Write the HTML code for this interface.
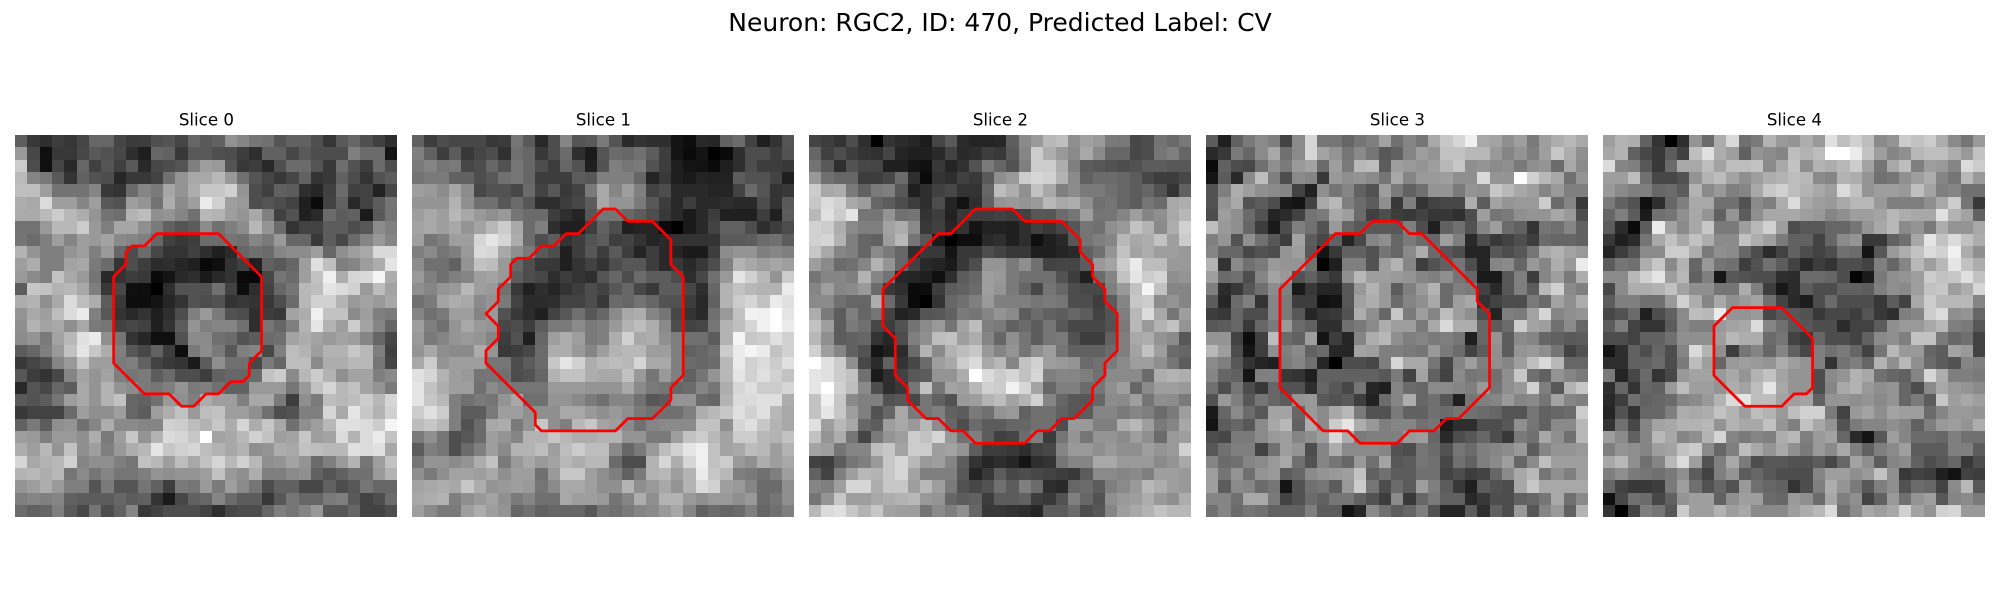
<!DOCTYPE html>
<html>
<head>
<meta charset="utf-8">
<title>Neuron slices</title>
<style>
html,body{margin:0;padding:0;background:#fff;}
svg{display:block;}
text{font-family:"DejaVu Sans",sans-serif;fill:#000;}
</style>
</head>
<body>
<svg id="figure" xmlns="http://www.w3.org/2000/svg" width="2000" height="600" viewBox="0 0 2000 600">
<rect width="2000" height="600" fill="#fff"/>
<text x="1000" y="31" font-size="25" text-anchor="middle">Neuron: RGC2, ID: 470, Predicted Label: CV</text>
<text x="206.4" y="125.5" font-size="16.67" text-anchor="middle">Slice 0</text>
<text x="603.4" y="125.5" font-size="16.67" text-anchor="middle">Slice 1</text>
<text x="1000.4" y="125.5" font-size="16.67" text-anchor="middle">Slice 2</text>
<text x="1397.4" y="125.5" font-size="16.67" text-anchor="middle">Slice 3</text>
<text x="1794.4" y="125.5" font-size="16.67" text-anchor="middle">Slice 4</text>
</svg>
<script>
// Intensities: percent of white, row by row (31 x 31 per slice)
var slice0Values = [
[37,22,18,24,21,27,40,40,27,23,24,31,33,27,40,35,38,57,52,46,44,33,38,38,31,21,35,40,31,25,18],
[60,28,6,22,22,28,35,32,28,18,12,40,38,22,35,35,31,30,24,18,38,38,28,35,30,30,30,50,42,42,8],
[80,30,6,27,16,40,25,33,25,35,16,28,30,33,50,62,60,33,22,24,16,31,42,42,33,22,43,32,24,42,30],
[73,52,47,35,20,38,32,30,15,22,22,26,44,58,66,66,72,60,44,33,27,22,27,38,20,22,38,30,20,32,36],
[75,75,62,45,45,45,52,22,20,42,52,48,65,58,68,78,78,82,58,30,25,38,36,18,15,25,42,25,26,13,28],
[68,66,86,62,62,52,62,34,32,62,58,45,68,54,62,92,82,62,60,30,33,30,26,12,4,26,38,16,26,36,46],
[67,67,73,80,72,68,58,45,43,70,74,56,58,52,44,72,70,62,58,66,50,25,32,12,16,42,36,38,10,35,45],
[45,45,60,72,72,80,60,50,65,65,56,48,38,33,36,55,44,50,55,72,58,42,20,26,26,36,36,30,34,55,50],
[46,42,50,62,52,62,60,64,54,52,50,40,25,22,24,42,42,46,44,52,48,60,40,40,22,36,28,42,52,60,52],
[70,58,50,50,58,62,50,60,40,30,42,28,20,20,25,18,12,16,40,44,42,52,55,55,62,40,56,62,66,85,85],
[62,68,50,50,64,66,48,42,20,30,24,17,18,15,12,3,6,20,25,13,38,35,40,62,88,75,50,52,62,68,90],
[60,54,50,76,66,60,46,16,20,24,22,4,8,16,18,10,16,20,4,3,28,46,42,62,76,94,68,84,85,96,68],
[36,78,76,70,72,66,50,22,28,6,5,0,18,32,32,32,44,26,5,18,26,40,46,72,74,90,86,82,60,74,64],
[68,70,56,66,86,74,68,36,22,5,5,8,15,20,32,30,32,20,22,20,22,30,42,72,82,82,70,60,64,60,66],
[58,66,62,74,86,92,50,34,20,16,20,12,18,30,50,60,48,32,30,18,24,22,64,68,94,76,76,54,62,50,48],
[56,70,64,66,56,66,48,46,25,28,25,12,20,36,58,50,52,52,44,18,46,40,50,70,90,70,62,80,64,52,40],
[55,58,48,64,72,88,92,56,46,20,15,6,6,32,54,54,44,42,32,36,42,44,64,68,64,60,64,62,52,40,28],
[36,40,50,60,76,90,78,68,50,34,28,38,24,5,48,55,48,34,50,52,28,50,74,70,62,70,70,78,72,50,25],
[22,27,32,52,60,78,62,62,48,50,38,26,22,20,10,36,56,44,44,28,48,40,74,74,54,68,68,72,72,46,27],
[34,24,20,28,52,64,58,64,50,46,48,36,42,30,30,24,38,40,40,42,76,80,54,72,80,70,56,64,64,50,54],
[16,33,28,40,36,66,58,70,58,55,48,46,50,58,48,50,44,38,38,60,60,60,46,60,76,84,72,76,64,58,48],
[35,32,36,46,62,66,58,70,76,40,38,44,60,56,50,68,62,62,50,66,66,48,24,56,48,74,72,74,80,72,84],
[22,26,26,26,42,62,56,56,62,40,36,62,68,76,60,74,76,62,62,56,44,30,32,50,50,84,66,90,78,70,82],
[38,48,36,56,58,44,52,68,54,54,52,52,82,80,74,70,78,68,84,68,78,66,44,56,62,72,88,88,86,80,96],
[62,60,50,60,60,56,68,48,62,78,58,70,86,84,78,100,64,66,72,82,76,62,64,78,62,64,86,70,86,92,76],
[68,62,72,58,76,56,62,50,60,68,72,90,78,82,84,74,70,66,70,56,58,68,66,76,74,72,72,88,86,88,66],
[84,66,70,72,82,52,56,56,50,46,76,72,62,74,66,76,84,72,82,72,56,58,64,58,42,50,60,70,46,62,76],
[70,72,68,72,46,54,46,52,46,46,50,58,56,58,58,62,76,60,56,68,50,50,54,56,38,33,38,44,44,60,70],
[58,62,68,60,50,50,33,48,33,33,46,38,24,48,46,60,48,62,54,46,30,38,38,28,28,38,30,34,46,40,40],
[50,52,50,52,38,36,36,36,40,36,38,20,10,28,38,40,52,42,36,36,22,34,46,40,40,48,50,35,26,30,42],
[42,38,40,50,35,28,46,30,38,52,22,26,30,30,30,26,18,28,30,30,40,50,46,52,60,34,34,40,26,26,30]
];
var slice1Values = [
[38,24,30,28,28,28,22,23,46,35,16,30,52,33,35,48,33,16,20,18,18,8,5,16,15,38,42,26,12,20,33],
[50,38,24,36,22,27,30,19,44,40,22,30,42,18,10,33,42,40,44,36,24,8,4,8,0,4,18,30,30,24,32],
[48,52,46,48,28,30,40,32,46,40,30,24,40,32,12,32,50,46,48,32,24,12,8,7,4,12,18,30,24,24,22],
[45,48,48,38,38,30,34,44,46,40,24,24,24,36,34,50,50,50,40,14,22,12,10,14,13,13,36,32,32,26,12],
[62,60,55,65,55,28,32,32,28,42,26,34,22,26,48,66,52,62,50,26,30,16,16,16,14,14,26,42,33,20,22],
[58,58,58,70,56,44,44,34,42,34,18,18,24,28,36,66,58,58,48,34,24,16,24,16,16,18,16,16,30,20,35],
[62,66,62,72,66,60,56,60,46,42,42,24,18,14,34,46,46,40,36,30,22,16,10,16,24,12,12,12,24,12,36],
[64,66,62,66,58,64,72,80,66,42,50,18,12,12,24,38,30,12,14,14,4,0,10,16,26,38,38,30,18,24,30],
[62,46,50,62,62,84,90,84,68,42,30,36,20,24,32,36,24,26,20,14,16,20,20,20,20,35,35,36,42,44,36],
[50,54,46,50,60,86,84,66,56,48,35,30,12,24,34,24,35,24,14,24,16,14,10,10,24,55,58,58,50,52,50],
[55,44,44,38,58,76,74,60,40,30,22,22,12,20,26,20,30,34,34,24,16,22,16,22,30,50,70,66,62,65,62],
[60,50,44,50,52,62,64,60,36,30,28,18,24,20,18,33,40,30,42,36,36,30,18,28,44,60,90,82,72,58,80],
[56,52,58,60,72,62,60,44,22,12,18,14,20,24,30,26,34,40,28,22,36,36,28,18,40,70,76,72,70,70,92],
[44,48,64,68,66,54,58,48,26,17,17,18,26,26,30,22,42,40,45,40,32,32,24,16,38,70,80,84,76,92,88],
[52,44,48,62,62,52,60,32,22,17,12,26,34,44,34,40,54,66,68,52,46,28,20,16,44,60,76,95,94,100,90],
[62,50,44,58,66,60,58,28,30,24,36,48,48,54,48,50,60,70,74,68,54,30,26,28,46,70,75,84,94,100,92],
[60,48,52,58,60,58,52,24,32,12,40,62,68,62,48,50,68,82,66,68,56,50,44,44,36,70,96,78,80,88,82],
[58,66,56,54,54,68,58,22,24,28,42,68,68,60,52,62,70,72,72,62,62,50,38,40,44,80,92,96,92,76,82],
[66,80,58,62,62,62,46,46,30,36,42,78,90,82,68,72,74,72,84,66,66,50,42,40,42,72,92,82,86,80,88],
[88,84,70,62,60,46,46,44,30,32,40,70,76,76,68,66,66,76,60,46,60,50,38,46,58,72,90,82,88,82,76],
[90,76,68,62,62,44,54,50,46,46,46,60,60,60,58,58,58,66,54,48,46,40,42,52,46,68,84,88,80,80,84],
[90,78,72,50,44,48,46,58,66,44,44,58,58,54,48,44,52,52,44,34,36,58,58,42,40,70,86,86,88,88,68],
[80,88,80,50,36,36,48,62,62,56,56,56,66,66,60,56,60,56,48,44,44,44,50,68,72,78,88,82,88,72,66],
[74,78,72,50,32,42,66,68,48,58,78,56,50,72,78,64,62,54,44,52,54,54,54,76,76,56,84,88,78,70,66],
[48,56,46,30,34,42,62,58,52,70,70,78,72,68,68,70,70,58,58,48,48,62,76,80,72,64,80,80,72,70,76],
[36,50,46,30,42,50,62,54,70,70,74,62,74,80,74,74,54,40,48,60,74,82,90,94,76,64,66,74,72,62,70],
[46,58,58,54,58,68,76,48,60,66,60,64,72,68,72,72,42,30,30,70,84,68,84,94,76,80,60,56,68,62,66],
[56,48,56,64,64,62,66,56,62,62,44,60,78,78,62,56,50,38,48,70,72,62,70,92,78,72,50,48,44,50,62],
[64,66,68,66,78,68,58,60,62,60,46,54,66,66,62,56,56,70,56,60,66,58,70,86,82,62,60,52,42,42,56],
[66,68,70,50,56,60,64,56,48,52,44,44,66,62,62,60,46,52,68,56,70,70,60,56,60,60,56,60,42,46,56],
[62,54,48,48,62,68,62,58,40,44,38,40,40,40,34,46,44,48,52,54,60,66,52,38,42,40,42,50,40,44,50]
];
var slice2Values = [
[27,24,20,30,18,0,20,17,15,11,27,35,17,14,14,15,37,54,60,72,75,56,63,60,48,47,28,30,45,41,47],
[40,25,30,24,20,19,27,14,12,12,16,26,16,18,24,22,35,52,80,68,60,54,66,54,40,40,28,30,46,50,40],
[45,35,18,32,28,27,12,12,8,6,22,14,19,32,48,40,32,50,80,80,68,50,36,34,32,30,32,36,36,34,34],
[60,44,40,40,24,24,28,42,18,4,20,18,25,22,35,56,60,80,84,82,70,54,38,42,42,40,36,28,24,24,28],
[80,66,68,48,38,48,50,34,12,18,25,28,20,20,40,74,68,56,76,66,50,55,48,48,44,40,36,40,32,20,38],
[78,86,82,66,62,40,36,30,24,18,30,14,7,18,38,58,60,58,60,72,66,68,56,44,46,40,36,46,42,66,68],
[72,88,80,90,46,46,58,44,46,20,24,13,22,24,24,26,24,26,34,34,42,46,62,46,46,52,62,52,56,66,72],
[82,80,68,54,50,50,64,68,54,22,25,15,20,8,13,13,12,18,25,22,27,34,46,44,56,60,76,70,54,68,82],
[82,84,70,50,40,38,62,72,46,34,10,0,5,5,16,18,12,18,6,12,16,34,46,50,52,72,66,68,76,62,80],
[78,66,52,50,40,54,48,40,18,22,22,8,22,22,30,26,22,22,12,12,14,16,38,44,58,76,64,68,62,62,60],
[62,54,42,44,52,70,58,40,26,16,14,10,22,30,58,58,48,56,44,26,27,27,36,60,64,80,92,74,74,60,60],
[46,52,52,50,70,52,45,15,14,12,6,18,36,40,62,60,48,44,44,44,32,24,12,42,52,76,90,80,84,56,58],
[52,62,52,54,60,42,22,18,4,5,24,36,38,42,62,58,48,40,28,46,40,30,28,28,50,60,76,96,76,52,52],
[54,54,44,40,40,68,42,22,4,0,20,40,44,50,60,50,50,50,46,48,46,30,30,24,36,52,78,80,55,58,52],
[68,48,36,50,40,46,26,13,16,33,34,38,48,46,52,58,54,36,42,38,36,40,36,26,32,50,72,86,66,46,62],
[76,62,36,48,44,28,24,32,45,54,60,46,64,74,50,48,38,42,36,46,34,28,28,28,32,48,72,60,70,76,58],
[72,56,36,38,40,20,15,30,50,56,74,76,62,68,52,40,56,46,36,46,48,32,24,24,38,50,66,68,58,54,34],
[82,62,52,38,32,8,12,17,42,70,54,70,74,78,60,52,58,46,56,62,46,38,38,38,42,50,64,76,62,42,40],
[100,88,80,56,28,17,38,20,28,42,62,66,80,86,66,72,52,76,82,62,60,58,42,44,48,54,62,62,56,46,36],
[90,88,80,76,44,10,18,26,34,36,58,58,68,100,86,80,84,76,84,50,52,52,50,44,54,54,54,42,68,70,68],
[90,100,82,74,54,30,18,22,46,76,46,64,62,72,82,80,95,84,64,40,50,50,42,46,56,62,40,54,62,62,60],
[76,94,78,54,50,50,32,34,28,46,38,32,60,62,70,74,64,70,82,52,40,34,34,40,55,54,62,46,56,55,48],
[76,90,78,62,50,32,40,66,48,46,50,38,36,48,44,58,60,38,44,44,38,34,36,52,52,48,52,50,42,48,62],
[88,62,72,66,40,36,62,66,60,72,55,40,30,42,36,36,40,40,44,44,30,60,60,50,50,68,72,62,48,52,66],
[76,58,68,46,27,48,58,62,80,76,84,60,44,50,36,25,27,42,50,23,46,58,46,58,58,54,62,56,42,60,62],
[64,62,46,52,52,74,78,64,80,80,62,64,58,36,24,24,22,18,26,28,52,60,60,56,60,56,56,62,58,60,82],
[26,24,36,46,50,60,78,84,72,60,62,52,36,20,15,18,15,8,18,20,46,52,52,66,66,60,60,60,54,58,66],
[38,26,50,62,72,70,78,84,64,50,50,50,34,14,22,36,28,30,28,26,24,22,36,54,54,52,54,50,62,62,60],
[52,50,62,84,84,68,78,78,62,72,62,48,32,28,32,44,36,50,42,18,16,40,42,36,50,54,60,72,68,62,60],
[46,58,78,62,62,66,68,70,72,60,58,40,36,38,24,36,36,38,24,22,32,50,40,32,56,60,62,68,60,56,68],
[72,86,88,78,70,78,64,62,62,46,54,50,56,40,22,22,20,18,15,36,36,42,30,34,52,62,66,70,76,72,72]
];
var slice3Values = [
[36,12,38,48,54,50,26,54,84,46,46,40,46,50,64,44,52,46,66,78,84,94,66,64,56,62,48,62,68,72,66],
[16,22,48,40,54,66,44,54,84,64,58,46,54,46,34,38,52,62,58,76,76,72,72,60,52,58,50,62,78,68,56],
[4,38,30,28,44,56,48,60,64,42,62,48,72,74,36,62,60,58,62,72,78,56,58,54,56,48,56,58,42,66,54],
[8,36,16,54,74,50,30,54,52,22,60,56,58,54,46,66,52,60,60,62,56,56,85,58,58,100,82,72,66,44,58],
[32,50,68,62,56,54,52,26,13,56,46,52,38,32,62,48,38,44,58,58,48,58,56,78,72,66,62,52,60,50,50],
[32,58,66,32,36,30,10,8,26,66,72,50,42,36,56,22,50,20,26,28,28,68,36,64,58,60,60,80,42,52,22],
[30,62,56,42,32,14,17,26,45,48,66,62,42,25,30,24,22,26,21,21,18,30,62,46,48,56,58,58,66,60,30],
[74,60,56,40,24,10,30,50,44,32,60,40,35,35,35,35,50,30,12,38,44,32,52,62,42,38,20,46,44,52,38],
[50,58,32,56,44,34,24,64,36,28,38,14,28,52,56,40,48,42,40,62,50,16,30,22,26,30,24,42,40,40,38],
[52,40,40,28,32,30,58,62,34,8,22,38,38,32,46,40,54,68,42,34,30,14,14,34,30,34,46,66,70,64,60],
[70,20,54,44,48,60,58,58,44,0,12,50,50,32,62,70,52,24,32,38,46,30,14,52,54,40,60,52,68,60,92],
[62,42,44,30,52,64,60,32,38,28,22,56,72,62,62,60,58,52,50,56,46,40,10,10,34,50,24,52,62,48,68],
[50,17,22,34,44,55,50,10,22,15,15,34,60,70,60,36,50,60,70,42,50,48,26,16,34,50,36,72,82,54,50],
[36,15,42,50,20,52,48,24,24,6,8,34,64,68,60,42,52,56,66,42,62,66,20,26,30,30,48,42,64,56,68],
[24,22,40,30,30,52,48,34,15,20,22,32,68,56,40,78,48,62,52,74,62,56,30,14,50,48,64,84,52,56,58],
[34,36,40,22,40,48,60,42,38,18,18,44,48,54,68,62,62,48,66,85,68,68,40,36,42,80,64,62,44,54,40],
[58,58,26,5,25,74,42,38,62,8,24,15,52,68,72,56,50,52,48,50,46,12,40,58,36,54,52,40,38,35,36],
[72,62,30,8,24,56,50,54,38,42,15,15,64,62,50,50,48,46,60,48,42,26,36,56,36,58,60,56,46,26,32],
[54,50,34,20,14,12,48,52,44,15,0,30,30,28,50,84,66,66,46,28,52,62,50,56,52,62,75,85,72,40,40],
[52,40,38,8,50,50,22,20,12,38,38,38,38,38,34,48,26,64,38,26,54,46,48,44,56,78,44,38,58,52,48],
[44,30,46,30,22,40,32,32,18,40,34,28,46,15,12,52,42,40,54,54,52,50,60,46,56,60,82,50,34,70,78],
[32,60,50,34,46,40,36,58,60,35,32,35,24,13,42,52,68,40,44,34,12,46,50,52,60,52,54,46,64,52,50],
[10,40,54,42,34,64,64,40,60,54,66,72,48,32,32,48,38,38,44,42,46,44,42,40,33,33,46,38,40,42,80],
[8,36,40,34,54,66,72,38,68,54,80,90,68,60,50,52,52,44,46,10,18,18,30,30,34,56,46,38,54,54,72],
[30,28,48,48,54,60,62,52,56,62,85,68,48,50,50,50,60,62,40,16,30,34,40,30,22,48,44,66,56,44,72],
[34,44,50,50,26,44,62,58,30,52,68,54,54,54,52,32,30,46,42,32,46,42,50,52,55,60,36,52,58,58,60],
[52,42,44,52,54,60,66,44,32,52,46,40,60,44,64,34,36,46,44,28,44,38,50,54,62,40,54,75,62,62,62],
[62,46,58,44,58,60,36,40,54,58,60,62,76,38,44,36,36,44,44,26,30,24,26,40,54,66,72,46,56,50,62],
[62,36,54,52,42,46,8,32,44,46,36,60,80,46,30,42,36,62,50,36,22,12,36,32,30,66,78,66,66,66,66],
[52,52,44,66,66,48,26,32,42,38,46,46,38,32,24,54,22,40,48,38,38,16,22,30,30,38,40,46,66,44,54],
[44,52,42,46,44,38,38,38,50,36,36,8,15,54,44,36,40,50,32,14,14,36,18,38,30,60,34,52,60,38,70]
];
var slice4Values = [
[62,70,68,38,20,0,18,58,42,68,85,44,48,70,60,58,68,60,88,75,82,74,54,58,80,76,80,68,54,46,60],
[66,70,38,28,22,36,25,75,88,68,62,38,58,55,52,74,70,74,100,100,92,76,62,52,56,72,75,75,68,60,76],
[86,52,50,34,22,42,66,66,74,64,74,74,76,54,66,76,56,70,68,72,80,64,46,66,74,50,62,60,52,86,80],
[62,62,74,44,28,28,32,58,70,74,64,56,62,68,70,74,72,54,52,70,68,58,44,46,56,62,68,52,46,72,60],
[60,54,50,50,40,42,36,70,54,60,50,52,66,78,82,74,70,66,62,86,76,58,62,62,60,75,64,50,52,44,44],
[48,38,32,6,18,40,50,66,66,44,44,32,54,50,68,86,66,62,60,66,72,72,60,50,50,50,56,66,80,46,22],
[40,50,36,10,44,46,56,66,58,38,58,36,56,66,66,66,62,60,52,56,62,62,64,72,68,66,66,88,70,64,38],
[36,17,4,36,92,64,54,66,78,48,48,62,72,82,62,30,34,34,40,40,46,58,66,72,54,58,48,68,58,58,66],
[22,12,17,46,66,76,66,76,68,54,54,76,68,62,48,38,38,26,40,54,58,22,22,38,44,66,90,76,86,76,68],
[14,24,33,54,54,80,80,68,48,56,54,40,30,17,26,38,30,26,30,44,42,8,34,60,68,76,86,82,94,68,56],
[36,46,44,68,78,54,70,40,60,46,44,24,32,44,36,26,16,24,20,30,30,26,50,40,52,72,62,72,90,76,68],
[54,54,72,82,90,62,72,38,50,9,34,32,30,30,18,17,42,42,40,30,2,10,48,56,58,62,80,76,78,88,76],
[28,54,68,68,70,76,64,56,56,46,46,68,50,24,9,17,36,30,30,38,38,36,50,56,54,62,76,78,62,68,84],
[36,50,50,44,44,60,82,68,52,66,56,60,64,44,26,16,11,30,42,30,30,30,22,36,26,66,80,72,72,72,52],
[28,32,42,12,30,38,54,74,72,92,58,58,60,28,34,34,32,22,28,28,24,33,22,18,50,52,80,86,56,58,40],
[36,50,26,20,20,36,54,50,50,60,64,66,86,52,44,34,34,30,30,17,26,26,36,56,60,60,66,72,50,48,34],
[30,30,26,38,38,44,56,56,56,62,72,68,68,42,46,26,22,40,30,30,26,38,54,56,50,76,76,48,40,44,26],
[8,18,38,30,40,30,52,86,70,56,24,46,52,40,52,38,28,50,44,48,40,26,46,72,60,60,40,36,64,60,26],
[18,18,38,38,42,30,48,74,62,40,60,62,60,58,68,62,58,50,20,45,50,40,70,56,72,56,42,36,32,52,50],
[48,14,28,42,20,28,60,64,64,60,66,58,70,76,64,58,58,30,54,58,70,66,44,40,38,52,84,68,50,50,48],
[18,40,20,40,38,60,74,62,62,58,68,64,74,90,66,58,58,30,52,66,70,60,56,58,40,30,54,66,60,58,54],
[16,24,44,38,40,42,52,54,60,70,86,90,74,74,64,62,64,38,58,58,56,58,54,58,40,48,36,78,62,66,62],
[14,32,20,40,40,50,68,66,68,76,70,62,74,70,60,74,82,82,48,26,60,64,56,64,62,62,42,52,60,60,58],
[20,44,28,52,64,66,70,70,72,58,70,66,66,76,58,50,76,66,58,32,48,52,52,56,52,38,50,60,62,58,68],
[62,54,38,52,72,66,52,56,70,84,52,48,52,50,68,72,50,60,64,40,16,8,34,62,52,42,42,40,50,44,44],
[50,58,56,52,62,64,76,80,54,40,50,74,66,58,66,56,48,60,54,66,50,38,50,54,62,36,36,36,50,50,36],
[66,72,56,44,52,72,86,62,32,50,66,48,30,34,34,32,32,36,28,40,64,56,36,52,54,38,30,34,40,22,30],
[50,56,48,46,44,48,56,36,26,50,58,36,40,34,30,30,30,52,62,62,56,60,76,56,22,26,24,12,7,26,24],
[40,26,22,22,24,48,62,44,32,40,32,60,44,40,38,20,30,50,68,58,48,34,50,56,32,42,40,26,54,72,34],
[6,28,44,42,28,38,58,62,62,38,56,62,62,42,40,60,56,42,66,50,56,26,38,60,44,58,62,34,52,54,48],
[20,0,26,50,46,34,80,62,62,70,62,66,54,54,54,62,68,72,86,44,54,66,62,66,82,64,58,82,84,60,60]
];
// Contours: [column, row] in image-cell units
var slice0Contour = [[11.5,8],[16.5,8],[20,11.5],[20,17.5],[19,18.5],[19,19.5],[18.5,20],[17.5,20],[16.5,21],[15.5,21],[14.5,22],[13.5,22],[12.5,21],[10.5,21],[8,18.5],[8,11.5],[9,10.5],[9,9.5],[9.5,9],[10.5,9],[11.5,8]];
var slice1Contour = [[15.5,6],[16.5,6],[17.5,7],[19.5,7],[21,8.5],[21,10.5],[22,11.5],[22,19.5],[21,20.5],[21,21.5],[19.5,23],[17.5,23],[16.5,24],[10.5,24],[10,23.5],[10,22.5],[6,18.5],[6,17.5],[7,16.5],[7,15.5],[6,14.5],[7,13.5],[7,12.5],[8,11.5],[8,10.5],[8.5,10],[9.5,10],[10.5,9],[11.5,9],[12.5,8],[13.5,8],[15.5,6]];
var slice2Contour = [[13.5,6],[16.5,6],[17.5,7],[20.5,7],[22,8.5],[22,9.5],[23,10.5],[23,11.5],[24,12.5],[24,13.5],[25,14.5],[25,17.5],[24,18.5],[24,19.5],[23,20.5],[23,21.5],[21.5,23],[20.5,23],[19.5,24],[18.5,24],[17.5,25],[13.5,25],[12.5,24],[11.5,24],[10.5,23],[9.5,23],[8,21.5],[8,20.5],[7,19.5],[7,16.5],[6,15.5],[6,12.5],[10.5,8],[11.5,8],[13.5,6]];
var slice3Contour = [[13.5,7],[15.5,7],[16.5,8],[17.5,8],[22,12.5],[22,13.5],[23,14.5],[23,20.5],[20.5,23],[19.5,23],[18.5,24],[16.5,24],[15.5,25],[12.5,25],[11.5,24],[9.5,24],[6,20.5],[6,12.5],[10.5,8],[12.5,8],[13.5,7]];
var slice4Contour = [[10.5,14],[14.5,14],[17,16.5],[17,20.5],[16.5,21],[15.5,21],[14.5,22],[11.5,22],[9,19.5],[9,15.5],[10.5,14]];

var allValues = [slice0Values, slice1Values, slice2Values, slice3Values, slice4Values];
var allContours = [slice0Contour, slice1Contour, slice2Contour, slice3Contour, slice4Contour];

var SVG_NS = 'http://www.w3.org/2000/svg';
var figure = document.getElementById('figure');
var panelWidth = 382.2;
var panelTop = 135;
var panelStep = 397;
var panelStart = 15;
var gridSize = 31;

function xScale(panel, col) { return panelStart + panel * panelStep + col * panelWidth / gridSize; }
function yScale(row) { return panelTop + row * panelWidth / gridSize; }
function grayOf(v) { var g = Math.round(v * 2.55); return 'rgb(' + g + ',' + g + ',' + g + ')'; }

allValues.forEach(function (rows, p) {
  var group = document.createElementNS(SVG_NS, 'g');
  
  
  group.setAttribute('shape-rendering', 'crispEdges');
  rows.forEach(function (row, r) {
    row.forEach(function (v, c) {
      var x0 = Math.round(xScale(p, c)), x1 = Math.round(xScale(p, c + 1));
      var y0 = Math.round(yScale(r)), y1 = Math.round(yScale(r + 1));
      var cell = document.createElementNS(SVG_NS, 'rect');
      
      
      cell.setAttribute('x', x0);
      cell.setAttribute('y', y0);
      cell.setAttribute('width', x1 - x0);
      cell.setAttribute('height', y1 - y0);
      cell.setAttribute('fill', grayOf(v));
      group.appendChild(cell);
    });
  });
  figure.appendChild(group);
});

allContours.forEach(function (points, p) {
  var line = document.createElementNS(SVG_NS, 'polyline');
  
  
  line.setAttribute('points', points.map(function (pt) {
    return xScale(p, pt[0]).toFixed(2) + ',' + yScale(pt[1]).toFixed(2);
  }).join(' '));
  line.setAttribute('fill', 'none');
  line.setAttribute('stroke', '#ff0000');
  line.setAttribute('stroke-width', '2.78');
  line.setAttribute('stroke-linejoin', 'round');
  line.setAttribute('stroke-linecap', 'round');
  figure.appendChild(line);
});
</script>
</body>
</html>
